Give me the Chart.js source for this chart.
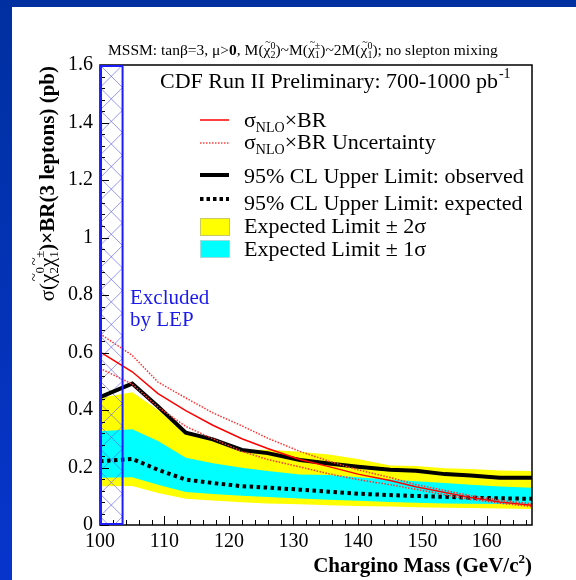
<!DOCTYPE html>
<html>
<head>
<meta charset="utf-8">
<script src="https://cdn.jsdelivr.net/npm/chart.js@4"></script>
<style>
  html, body { margin: 0; padding: 0; }
  body { width: 576px; height: 580px; overflow: hidden; position: relative;
         background: linear-gradient(to bottom, #0030a0, #0735cc); }
  #panel { position: absolute; left: 12px; top: 7px; width: 564px; height: 573px; background: #fff; }
  #wrap { position: absolute; left: 0; top: 0; width: 576px; height: 580px; }
</style>
</head>
<body>
<div id="panel"></div>
<div id="wrap"><canvas id="chart" width="576" height="580"></canvas></div>
<script>
// chargino mass points (GeV/c^2)
const masses = [100, 105, 109, 113.3, 117.5, 122, 126, 131, 135.5, 140, 145, 149, 153.5, 157.5, 162, 167];
// sigma_NLO x BR (pb) and its uncertainty band
const sigmaBR = [0.602, 0.533, 0.457, 0.398, 0.347, 0.300, 0.266, 0.228, 0.203, 0.177, 0.155, 0.133, 0.113, 0.096, 0.080, 0.069];
const sigmaBRUp = [0.665, 0.590, 0.497, 0.442, 0.390, 0.345, 0.302, 0.256, 0.222, 0.192, 0.165, 0.141, 0.120, 0.102, 0.086, 0.074];
const sigmaBRDown = [0.545, 0.490, 0.410, 0.343, 0.300, 0.256, 0.228, 0.202, 0.178, 0.158, 0.140, 0.124, 0.105, 0.089, 0.076, 0.064];
// 95% CL upper limits
const observed = [0.445, 0.492, 0.412, 0.321, 0.298, 0.261, 0.250, 0.226, 0.214, 0.203, 0.192, 0.189, 0.177, 0.172, 0.164, 0.164];
const expected = [0.222, 0.230, 0.192, 0.158, 0.146, 0.135, 0.130, 0.123, 0.116, 0.109, 0.104, 0.101, 0.098, 0.095, 0.093, 0.091];
// expected limit bands
const exp2Up = [0.443, 0.462, 0.400, 0.316, 0.292, 0.262, 0.262, 0.255, 0.245, 0.230, 0.207, 0.205, 0.197, 0.195, 0.190, 0.188];
const exp1Up = [0.326, 0.333, 0.292, 0.234, 0.215, 0.199, 0.188, 0.176, 0.174, 0.166, 0.158, 0.152, 0.146, 0.140, 0.134, 0.130];
const exp1Down = [0.164, 0.166, 0.140, 0.115, 0.108, 0.102, 0.097, 0.092, 0.088, 0.084, 0.080, 0.077, 0.075, 0.074, 0.073, 0.072];
const exp2Down = [0.135, 0.136, 0.111, 0.091, 0.085, 0.079, 0.075, 0.072, 0.069, 0.066, 0.064, 0.062, 0.060, 0.059, 0.057, 0.056];
// LEP excluded mass range
const lepExcluded = [100, 103.5];
// axes
const xTicks = [100, 110, 120, 130, 140, 150, 160];
const yTicks = [0, 0.2, 0.4, 0.6, 0.8, 1, 1.2, 1.4, 1.6];

const SERIF = '"Liberation Serif", "DejaVu Serif", serif';
const pts = arr => arr.map((v, i) => ({ x: masses[i], y: v }));

const line = (label, data, color, width, dash, extra) => Object.assign({
  label, data: pts(data), borderColor: color, borderWidth: width, borderDash: dash || [],
  pointRadius: 0, tension: 0, fill: false, borderCapStyle: 'butt'
}, extra || {});

// draws a run of text pieces; stacked pieces have sup/sub
function drawRich(ctx, x, y, parts, dry) {
  let cx = x;
  for (const p of parts) {
    ctx.font = p.f;
    if (p.sup !== undefined) {
      const w = Math.max(ctx.measureText(p.sup).width, ctx.measureText(p.sub).width);
      if (!dry) {
        ctx.fillText(p.sup, cx, y - p.up);
        ctx.fillText(p.sub, cx, y + p.down);
      }
      cx += w;
    } else {
      const w = ctx.measureText(p.t).width;
      if (!dry) {
        ctx.fillText(p.t, cx, y + (p.dy || 0));
        if (p.tilde) {
          ctx.font = p.tilde;
          const tw = ctx.measureText('~').width;
          ctx.fillText('~', cx + (w - tw) / 2 + 1, y - p.tildeUp);
        }
      }
      cx += w;
    }
  }
  return cx - x;
}

const decorations = {
  id: 'decorations',
  beforeDatasetsDraw(chart) {
    const { ctx, chartArea: a, scales: { x } } = chart;
    const x0 = x.getPixelForValue(lepExcluded[0]), x1 = x.getPixelForValue(lepExcluded[1]);
    const w = x1 - x0;
    ctx.save();
    ctx.beginPath();
    ctx.rect(x0, a.top, w, a.bottom - a.top);
    ctx.clip();
    ctx.strokeStyle = 'rgba(80,80,255,0.6)';
    ctx.lineWidth = 1;
    ctx.beginPath();
    for (let y = a.top - w; y < a.bottom + w; y += w) {
      ctx.moveTo(x0, y); ctx.lineTo(x1, y + w);
      ctx.moveTo(x0, y + w); ctx.lineTo(x1, y);
    }
    ctx.stroke();
    ctx.restore();
  },
  afterDraw(chart) {
    const { ctx, chartArea: a, scales: { x, y } } = chart;
    ctx.save();
    // ticks pointing inward
    ctx.strokeStyle = '#000';
    ctx.lineWidth = 1;
    ctx.beginPath();
    for (let v = 100; v <= 167; v += 2) {
      const px = Math.round(x.getPixelForValue(v)) + 0.5;
      const len = v % 10 === 0 ? 9 : 5;
      ctx.moveTo(px, a.bottom); ctx.lineTo(px, a.bottom - len);
    }
    for (let k = 0; k <= 40; k++) {
      const py = Math.round(y.getPixelForValue(k * 0.04)) + 0.5;
      const len = k % 5 === 0 ? 9 : 5;
      ctx.moveTo(a.left, py); ctx.lineTo(a.left + len, py);
    }
    ctx.stroke();
    // frame
    ctx.lineWidth = 1.5;
    ctx.strokeRect(a.left, a.top, a.right - a.left, a.bottom - a.top);
    // LEP box
    const x0 = x.getPixelForValue(lepExcluded[0]), x1 = x.getPixelForValue(lepExcluded[1]);
    ctx.strokeStyle = '#1c1cff';
    ctx.lineWidth = 2;
    ctx.strokeRect(x0 + 1, a.top + 1, x1 - x0 - 1, a.bottom - a.top - 2);

    ctx.textBaseline = 'alphabetic';
    ctx.textAlign = 'left';
    ctx.fillStyle = '#1a1aee';
    ctx.font = '21px ' + SERIF;
    ctx.fillText('Excluded', 130, 304);
    ctx.fillText('by LEP', 130, 326);

    ctx.fillStyle = '#000';
    // top caption
    const sm = '15.5px ' + SERIF, smb = 'bold 15.5px ' + SERIF, tiny = '10px ' + SERIF;
    const chi = (sup, sub) => [
      { t: 'χ', f: sm, tilde: tiny, tildeUp: 10 },
      { sup, sub, f: tiny, up: 6, down: 3 }
    ];
    drawRich(ctx, 108, 55, [
      { t: 'MSSM: tanβ=3, μ>', f: sm }, { t: '0', f: smb }, { t: ', M(', f: sm },
      ...chi('0', '2'), { t: ')~M(', f: sm }, ...chi('±', '1'), { t: ')~2M(', f: sm },
      ...chi('0', '1'), { t: '); no slepton mixing', f: sm }
    ]);
    // experiment label
    const wl = drawRich(ctx, 160, 88, [{ t: 'CDF Run II Preliminary: 700-1000 pb', f: '22px ' + SERIF }]);
    ctx.font = '14px ' + SERIF;
    ctx.fillText('-1', 160 + wl + 1, 78);

    // x axis title
    const xt = [
      { t: 'Chargino Mass (GeV/c', f: 'bold 21px ' + SERIF },
      { t: '2', f: 'bold 13px ' + SERIF, dy: -9 },
      { t: ')', f: 'bold 21px ' + SERIF }
    ];
    const xw = drawRich(ctx, 0, 0, xt, true);
    drawRich(ctx, a.right - xw, 572, xt);

    // y axis title
    const bf = 'bold 21px ' + SERIF, sf = '13px ' + SERIF, nf = '21px ' + SERIF;
    const yt = [
      { t: 'σ(', f: nf },
      { t: 'χ', f: nf, tilde: '15px ' + SERIF, tildeUp: 15 },
      { sup: '0', sub: '2', f: sf, up: 10, down: 4 },
      { t: 'χ', f: nf, tilde: '15px ' + SERIF, tildeUp: 15 },
      { sup: '±', sub: '1', f: sf, up: 10, down: 4 },
      { t: ')×BR(3 leptons) (pb)', f: bf }
    ];
    const yw = drawRich(ctx, 0, 0, yt, true);
    ctx.save();
    ctx.translate(54, a.top + 1);
    ctx.rotate(-Math.PI / 2);
    drawRich(ctx, -yw, 0, yt);
    ctx.restore();

    // legend
    const lf = '22px ' + SERIF, subf = '14px ' + SERIF;
    const lx0 = 200, lx1 = 229, tx = 244;
    const sample = (yy, color, width, dash) => {
      ctx.beginPath();
      ctx.setLineDash(dash);
      ctx.strokeStyle = color; ctx.lineWidth = width;
      ctx.moveTo(lx0, yy); ctx.lineTo(lx1, yy); ctx.stroke();
      ctx.setLineDash([]);
    };
    sample(120, '#ff0000', 1.5, []);
    sample(143, '#ff4040', 1.5, [1.5, 1.5]);
    sample(175, '#000', 4, []);
    sample(199, '#000', 4, [3.5, 3]);
    ctx.fillStyle = '#ffff00';
    ctx.fillRect(lx0, 218, lx1 - lx0, 17);
    ctx.strokeStyle = '#c8c864'; ctx.lineWidth = 1;
    ctx.strokeRect(lx0 + 0.5, 218.5, lx1 - lx0, 17);
    ctx.fillStyle = '#00ffff';
    ctx.fillRect(lx0, 240, lx1 - lx0, 17);
    ctx.strokeStyle = '#a0dcdc';
    ctx.strokeRect(lx0 + 0.5, 240.5, lx1 - lx0, 17);

    ctx.fillStyle = '#000';
    drawRich(ctx, tx, 127, [{ t: 'σ', f: lf }, { t: 'NLO', f: subf, dy: 5 }, { t: '×BR', f: lf }]);
    drawRich(ctx, tx, 149, [{ t: 'σ', f: lf }, { t: 'NLO', f: subf, dy: 5 }, { t: '×BR Uncertainty', f: lf }]);
    ctx.font = lf;
    ctx.fillText('95% CL Upper Limit: observed', tx, 183);
    ctx.fillText('95% CL Upper Limit: expected', tx, 210);
    ctx.fillText('Expected Limit ± 2σ', tx, 233);
    ctx.fillText('Expected Limit ± 1σ', tx, 256);
    ctx.restore();
  }
};

new Chart(document.getElementById('chart'), {
  type: 'line',
  data: {
    datasets: [
      line('σNLO×BR', sigmaBR, '#ff0000', 1.5),
      line('σNLO×BR Uncertainty up', sigmaBRUp, '#ff3030', 1.5, [1.5, 1.5]),
      line('σNLO×BR Uncertainty down', sigmaBRDown, '#ff3030', 1.5, [1.5, 1.5]),
      line('95% CL Upper Limit: observed', observed, '#000', 4),
      line('95% CL Upper Limit: expected', expected, '#000', 4, [3.5, 3.5]),
      line('Expected Limit ± 1σ', exp1Up, 'rgba(0,0,0,0)', 0, [], { fill: '+1', backgroundColor: '#00ffff' }),
      line('exp -1σ', exp1Down, 'rgba(0,0,0,0)', 0),
      line('Expected Limit ± 2σ', exp2Up, 'rgba(0,0,0,0)', 0, [], { fill: '+1', backgroundColor: '#ffff00' }),
      line('exp -2σ', exp2Down, 'rgba(0,0,0,0)', 0)
    ]
  },
  options: {
    responsive: false,
    animation: false,
    layout: { padding: { top: 65, right: 44, left: 0, bottom: 0 } },
    plugins: {
      legend: { display: false },
      tooltip: { enabled: false },
      filler: { drawTime: 'beforeDatasetsDraw' }
    },
    scales: {
      x: {
        type: 'linear', min: 100, max: 167,
        grid: { display: false, drawTicks: false },
        border: { display: false },
        afterFit: s => { s.height = 55; },
        afterBuildTicks: s => { s.ticks = xTicks.map(v => ({ value: v })); },
        ticks: { color: '#000', padding: 5, maxRotation: 0, font: { family: SERIF, size: 20 },
                 callback: v => String(v) }
      },
      y: {
        min: 0, max: 1.6,
        grid: { display: false, drawTicks: false },
        border: { display: false },
        afterFit: s => { s.width = 100; },
        afterBuildTicks: s => { s.ticks = yTicks.map(v => ({ value: v })); },
        ticks: { color: '#000', padding: 7, font: { family: SERIF, size: 20 },
                 callback: v => String(v) }
      }
    }
  },
  plugins: [decorations]
});
</script>
</body>
</html>
